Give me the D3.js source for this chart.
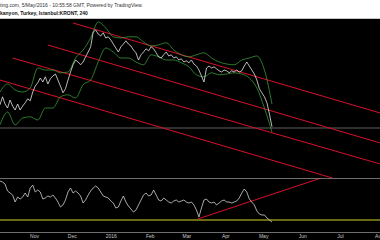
<!DOCTYPE html>
<html>
<head>
<meta charset="utf-8">
<script src="https://cdn.jsdelivr.net/npm/d3@7"></script>
<style>
  html, body { margin: 0; padding: 0; background: #ffffff; }
  svg { display: block; }
</style>
</head>
<body>
<svg id="chart" width="380" height="240"></svg>
<script>
// ---------- DATA ----------
const headerLine1 = "ting.com, 5/May/2016 - 10:55:58 GMT, Powered by TradingView.";
const headerLine2 = "kanyon, Turkey, Istanbul:KRONT, 240";

const seriesStart = "2015-10-05";
const priceStepDays = 2;
const bandStepDays = 6;

const price = [
  3.83,4.03,3.85,3.75,3.95,3.80,3.70,3.85,3.70,3.80,
  3.88,3.98,3.93,4.15,4.30,4.38,4.50,4.40,4.53,4.35,
  4.48,4.55,4.60,4.45,4.30,4.13,4.23,4.45,4.65,4.83,
  4.95,4.90,4.83,4.90,5.03,5.15,5.28,5.65,5.70,5.60,
  5.55,5.63,5.50,5.53,5.45,5.35,5.25,5.15,5.28,5.35,
  5.43,5.35,5.30,5.20,5.13,4.95,5.08,5.15,5.23,5.18,
  5.28,5.23,5.13,5.03,5.00,5.08,5.15,5.05,5.08,5.00,
  5.03,4.95,4.98,4.90,4.93,4.88,4.95,4.85,4.80,4.70,
  4.55,4.40,4.75,4.80,4.75,4.78,4.73,4.68,4.65,4.70,
  4.68,4.63,4.68,4.65,4.70,4.65,4.68,4.80,4.90,4.80,
  4.70,4.60,4.45,4.23,4.13,4.03,3.88,3.60,3.28
];

const upperBand = [
  4.15,4.35,4.20,4.15,4.25,4.75,4.70,4.70,4.63,4.65,
  5.00,5.20,5.50,5.90,5.75,5.53,5.50,5.53,5.53,5.40,
  5.30,5.33,5.38,5.20,5.08,5.03,5.08,5.13,5.00,4.90,
  4.85,4.83,4.95,5.00,5.05,4.70,3.85
];
const lowerBand = [
  3.33,3.65,3.33,3.50,3.53,3.45,3.75,3.75,4.03,4.08,
  4.00,4.33,4.45,4.90,5.25,5.15,5.00,5.00,4.90,4.83,
  5.08,5.03,4.95,4.95,4.88,4.78,4.58,4.53,4.63,4.58,
  4.60,4.63,4.60,4.50,4.25,3.75,3.15
];

const rsi = [
  76.25,75,72.5,63.75,61.25,58.75,50,56.25,53.75,56.25,
  61.25,56.25,67.5,71.25,62.5,65,62.5,53.75,55,57.5,
  56.25,58.75,55,50,43.75,46.25,52.5,62.5,67.5,61.25,
  63.75,61.25,57.5,48.75,52.5,58.75,63.75,67.5,70,67.5,
  62.5,57.5,56.25,55,51.25,48.75,42.5,43.75,51.25,57.5,
  50,45,41.25,37.5,40,46.25,52.5,58.75,61.25,57.5,
  58.75,65,58.75,52.5,51.25,55,52.5,50,48.75,51.25,
  52.5,50,51.25,52.5,50,48.75,50,46.25,40,31.25,
  42.5,52.5,53.75,50,48.75,50,46.25,48.75,51.25,52.5,
  50,50,48.75,50,51.25,55,61.25,66.25,62.5,53.75,
  50,46.25,38.75,35,33.75,33.75,30,27.5,25
];

// channel trend lines on price panel: [startDate, startPrice, endDate, endPrice]
const channelLines = [
  ["2015-12-02", 5.875, "2016-08-02", 3.625],
  ["2015-11-12", 5.325, "2016-08-02", 2.875],
  ["2015-10-15", 5.000, "2016-08-02", 2.350],
  ["2015-10-05", 4.450, "2016-06-25", 2.000]
];
const lastPriceLevel = 3.25;

// RSI panel drawings
const rsiTrend = ["2016-03-10", 28.75, "2016-06-16", 80];
const rsiLevel = 27.5;

const monthTicks = ["2015-10-01","2015-11-01","2015-12-01","2016-01-01","2016-02-01",
                    "2016-03-01","2016-04-01","2016-05-01","2016-06-01","2016-07-01","2016-08-01"];
const monthLabels = ["Oct","Nov","Dec","2016","Feb","Mar","Apr","May","Jun","Jul","Aug"];

// ---------- CHART ----------
const W = 380, H = 240;
const headerH = 18;
const mainTop = 19, mainBottom = 178;
const rsiTop = 178, rsiBottom = 232;

const parse = d3.utcParse("%Y-%m-%d");
const t0 = parse(seriesStart);

const priceData = price.map((v, i) => ({ date: d3.utcDay.offset(t0, i * priceStepDays), v }));
const upperData = upperBand.map((v, i) => ({ date: d3.utcDay.offset(t0, i * bandStepDays), v }));
const lowerData = lowerBand.map((v, i) => ({ date: d3.utcDay.offset(t0, i * bandStepDays), v }));
const rsiData = rsi.map((v, i) => ({ date: d3.utcDay.offset(t0, i * priceStepDays), v }));

const x = d3.scaleUtc()
  .domain([parse("2015-11-01"), parse("2016-08-01")])
  .range([34, 379]);
const y = d3.scaleLinear().domain([2, 6]).range([mainBottom, mainBottom - 160]);
const yr = d3.scaleLinear().domain([12.5, 80]).range([rsiBottom, rsiTop]);

const svg = d3.select("#chart");

svg.append("rect").attr("x", 0).attr("y", 0).attr("width", W).attr("height", headerH).attr("fill", "#ffffff");
svg.append("rect").attr("x", 0).attr("y", headerH).attr("width", W).attr("height", H - headerH).attr("fill", "#000000");
svg.append("line").attr("x1", 0).attr("x2", W).attr("y1", headerH + 0.5).attr("y2", headerH + 0.5)
  .attr("stroke", "#c8c8c8").attr("stroke-width", 1);

svg.append("text").attr("x", 0).attr("y", 7)
  .attr("font-family", "Arial, 'Liberation Sans', sans-serif").attr("font-size", 5)
  .attr("fill", "#333").text(headerLine1);
svg.append("text").attr("x", 0).attr("y", 15)
  .attr("font-family", "Arial, 'Liberation Sans', sans-serif").attr("font-size", 5)
  .attr("font-weight", "bold").attr("fill", "#111").text(headerLine2);

const defs = svg.append("defs");
defs.append("clipPath").attr("id", "clipMain").append("rect")
  .attr("x", 0).attr("y", mainTop).attr("width", W).attr("height", mainBottom - mainTop);
defs.append("clipPath").attr("id", "clipRsi").append("rect")
  .attr("x", 0).attr("y", rsiTop).attr("width", W).attr("height", rsiBottom - rsiTop);

const main = svg.append("g").attr("clip-path", "url(#clipMain)");
const rsiG = svg.append("g").attr("clip-path", "url(#clipRsi)");

// last price line
main.append("line").attr("x1", 0).attr("x2", W)
  .attr("y1", y(lastPriceLevel)).attr("y2", y(lastPriceLevel))
  .attr("stroke", "#7a7a7a").attr("stroke-width", 0.8);

// channel lines
channelLines.forEach(l => {
  main.append("line")
    .attr("x1", x(parse(l[0]))).attr("y1", y(l[1]))
    .attr("x2", x(parse(l[2]))).attr("y2", y(l[3]))
    .attr("stroke", "#d8102a").attr("stroke-width", 1);
});

const line = d3.line().x(d => x(d.date)).y(d => y(d.v));
const bandLine = d3.line().x(d => x(d.date)).y(d => y(d.v)).curve(d3.curveMonotoneX);

main.append("path").datum(upperData).attr("d", bandLine)
  .attr("fill", "none").attr("stroke", "#3fae3f").attr("stroke-width", 0.7);
main.append("path").datum(lowerData).attr("d", bandLine)
  .attr("fill", "none").attr("stroke", "#3fae3f").attr("stroke-width", 0.7);
main.append("path").datum(priceData).attr("d", line)
  .attr("fill", "none").attr("stroke", "#e6e6e6").attr("stroke-width", 0.8);

// separators
svg.append("line").attr("x1", 0).attr("x2", W).attr("y1", rsiTop + 0.5).attr("y2", rsiTop + 0.5)
  .attr("stroke", "#8a8a8a").attr("stroke-width", 0.8);
svg.append("line").attr("x1", 0).attr("x2", W).attr("y1", rsiBottom + 0.5).attr("y2", rsiBottom + 0.5)
  .attr("stroke", "#8a8a8a").attr("stroke-width", 0.8);

// RSI panel
rsiG.append("line").attr("x1", 0).attr("x2", W)
  .attr("y1", yr(rsiLevel)).attr("y2", yr(rsiLevel))
  .attr("stroke", "#d4d42a").attr("stroke-width", 1);
rsiG.append("line")
  .attr("x1", x(parse(rsiTrend[0]))).attr("y1", yr(rsiTrend[1]))
  .attr("x2", x(parse(rsiTrend[2]))).attr("y2", yr(rsiTrend[3]))
  .attr("stroke", "#d8102a").attr("stroke-width", 1);
const rline = d3.line().x(d => x(d.date)).y(d => yr(d.v));
rsiG.append("path").datum(rsiData).attr("d", rline)
  .attr("fill", "none").attr("stroke", "#d0d0d0").attr("stroke-width", 0.8);

// x axis
const labelMap = new Map(monthTicks.map((d, i) => [+parse(d), monthLabels[i]]));
const axis = d3.axisBottom(x)
  .tickValues(monthTicks.map(parse))
  .tickSize(0)
  .tickPadding(0)
  .tickFormat(d => labelMap.get(+d));
const ax = svg.append("g").attr("transform", `translate(0,${rsiBottom + 1})`).call(axis);
ax.select(".domain").remove();
ax.selectAll("text")
  .attr("font-family", "Arial, 'Liberation Sans', sans-serif")
  .attr("font-size", 5).attr("fill", "#c8c8c8").attr("dy", "0.9em");
</script>
</body>
</html>
